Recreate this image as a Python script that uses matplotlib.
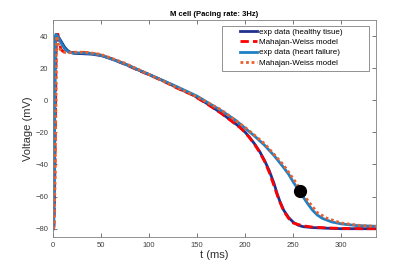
import matplotlib
matplotlib.use('Agg')
import matplotlib.pyplot as plt
from matplotlib.patches import Rectangle

plt.rcParams['font.family'] = ['Liberation Sans', 'DejaVu Sans']

# healthy tissue, experiment
t_h = [0, 0.5, 1, 1.5, 2, 2.5, 3, 4, 6, 8, 10, 12, 15, 18, 22, 30, 40, 50, 60, 75, 90, 100,
       115, 130, 145, 160, 175, 185, 195, 200, 205, 210, 215, 220, 225, 230, 233, 236, 240,
       245, 250, 255, 260, 270, 285, 300, 320, 336]
v_h = [-80, -79, -60, -20, 20, 38, 41, 40.5, 39, 37, 35, 33, 31, 29.8, 29.2, 29, 28.7, 27.8,
       26, 22.5, 18.5, 16, 12, 7.5, 3.5, -2, -8, -12.5, -17, -20, -23.5, -27.5, -32, -37.5,
       -44, -52, -58, -63, -68.5, -73, -76, -77.8, -78.7, -79.3, -79.7, -80, -80, -80]

# healthy tissue, model
t_hm = [0, 1, 2, 3, 3.5, 4, 5, 6, 8, 10, 13, 20, 30, 40, 50, 60, 75, 90, 100, 115, 130, 145,
        160, 175, 185, 195, 200, 205, 210, 215, 220, 225, 230, 235, 240, 245, 250, 260, 270,
        285, 300, 320, 336]
v_hm = [-80, -78, -40, 20, 40, 43, 41, 37, 32, 30.5, 30, 29.8, 29.8, 29.3, 28, 26, 22.3,
        18.3, 15.8, 11.8, 7.3, 3.3, -2.2, -8.2, -12.7, -17.3, -20.2, -23.8, -27.8, -32.5,
        -38, -45, -53.5, -62, -69, -73.5, -76.5, -78.2, -79, -79.5, -79.8, -80, -80]

# heart failure, experiment
t_f = [0, 0.5, 1, 1.5, 2, 2.5, 3, 5, 8, 12, 16, 20, 30, 40, 50, 75, 100, 125, 150, 175, 190,
       200, 210, 220, 230, 240, 245, 250, 255, 260, 265, 270, 275, 280, 290, 300, 315, 336]
v_f = [-80, -79, -60, -20, 20, 38, 41, 39.5, 36, 32, 30, 29.5, 29.5, 29, 28, 22.5, 16, 9.5,
       2.5, -6.5, -12.5, -17.5, -22.5, -28, -34.5, -42, -46, -51, -55.5, -60, -64.5, -68.5,
       -71.5, -73.5, -75.8, -77, -78, -78.5]

# heart failure, model
t_fm = [0, 1, 2, 3, 3.5, 4, 5, 7, 10, 15, 25, 35, 45, 50, 75, 100, 125, 150, 175, 200, 220,
        240, 250, 257, 265, 275, 285, 300, 320, 336]
v_fm = [-80, -79, -50, 0, 38, 40, 36, 32, 30, 29.5, 30, 29.8, 29, 28.5, 23, 16, 9, 2, -6,
        -17, -27, -40.5, -49, -55, -62.5, -70, -73.5, -76.5, -78, -78.5]

dot_t = [257]
dot_v = [-56.5]

fig = plt.figure(figsize=(4.15, 2.66), dpi=100)
ax = fig.add_axes([0.128, 0.11, 0.778, 0.815])

ax.plot(t_h, v_h, color='#1f318f', lw=2, label='exp data (healthy tisue)')
ax.plot(t_hm, v_hm, color='#ff0000', lw=2, ls=(0, (3, 1.5)), label='Mahajan-Weiss model')
ax.plot(t_f, v_f, color='#1f80c4', lw=2, label='exp data (heart failure)')
ax.plot(t_fm, v_fm, color='#e8602c', lw=2, ls=(0, (1, 1)), label='Mahajan-Weiss model')
ax.plot(dot_t, dot_v, 'o', color='black', markersize=8.5)

ax.set_xlim(0, 336)
ax.set_ylim(-85, 50)
ax.set_xticks([0, 50, 100, 150, 200, 250, 300])
ax.set_yticks([-80, -60, -40, -20, 0, 20, 40])
ax.tick_params(direction='in', top=True, right=True, labelsize=5.5, colors='#404040',
               length=3, width=0.5)
for s in ax.spines.values():
    s.set_color('#808080')
    s.set_linewidth(0.6)

ax.set_xlabel('t (ms)', fontsize=8, color='#303030', labelpad=1)
ax.set_ylabel('Voltage (mV)', fontsize=8, color='#303030', labelpad=2)
ax.set_title('M cell (Pacing rate: 3Hz)', fontsize=5.5, fontweight='bold', pad=3)

# matlab-like legend: wide box drawn separately
ax.add_patch(Rectangle((0.523, 0.766), 0.455, 0.206, transform=ax.transAxes,
                       facecolor='white', edgecolor='#808080', lw=0.6, zorder=4))
leg = ax.legend(loc='upper left', bbox_to_anchor=(0.58, 0.962), fontsize=5.8,
                frameon=False, handlelength=2.1, handletextpad=0.15, borderpad=0,
                labelspacing=0.33, borderaxespad=0)
leg.set_zorder(5)

fig.savefig('out.png', dpi=100)
